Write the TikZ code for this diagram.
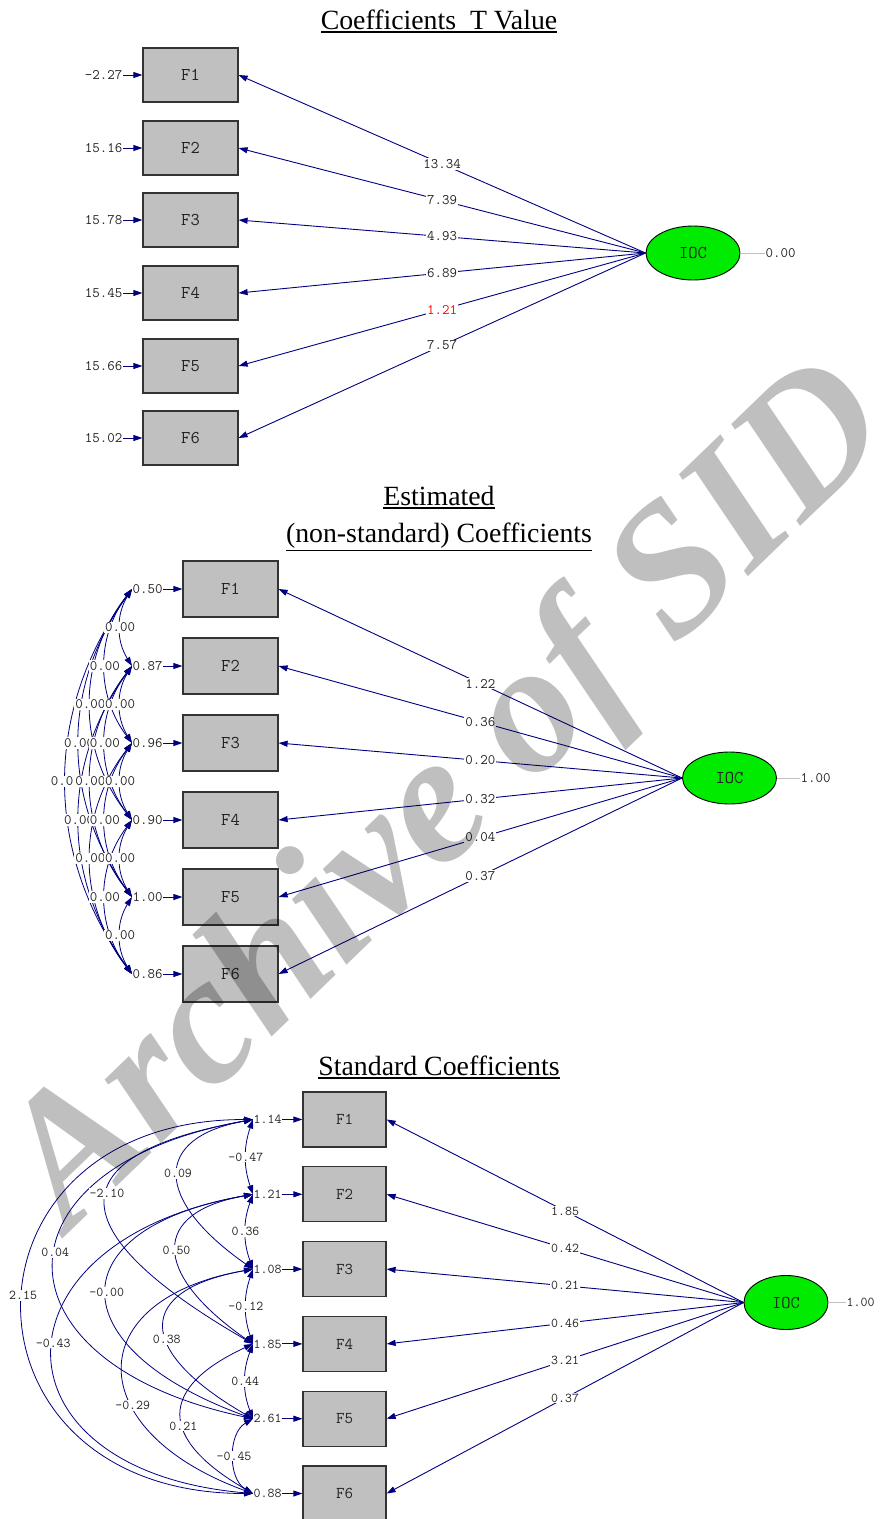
\documentclass[tikz,border=0pt]{standalone}
\usepackage{fontspec}
\setmainfont{Liberation Serif}
\usetikzlibrary{arrows.meta, shapes.geometric}

\definecolor{pathblue}{RGB}{0,0,128}
\definecolor{boxgray}{RGB}{192,192,192}
\definecolor{latgreen}{RGB}{0,235,0}
\definecolor{txtgray}{RGB}{35,35,35}

\newcommand\titleline[1]{\setbox0\hbox{#1}\leavevmode\rlap{\vrule height \dimexpr-\dp0-2pt\relax depth \dimexpr\dp0+3.5pt\relax width \wd0}\box0}

\begin{document}
\begin{tikzpicture}[x=1pt, y=-1pt,
  obs/.style={draw=black!80, line width=1.2pt, fill=boxgray, inner sep=0pt,
    minimum width=95pt, minimum height=54pt, text=txtgray, font=\ttfamily\fontsize{18}{18}\selectfont},
  obs3/.style={obs, minimum width=83pt, minimum height=55pt, font=\ttfamily\fontsize{16.5}{16.5}\selectfont},
  lat/.style={ellipse, draw=black, line width=0.9pt, fill=latgreen, inner sep=0pt,
    minimum width=94pt, minimum height=54pt, text=txtgray, font=\ttfamily\fontsize{18}{18}\selectfont},
  val/.style={inner sep=0.5pt, text=txtgray, font=\ttfamily\fontsize{14.5}{14.5}\selectfont},
  coef/.style={val, fill=white, inner sep=1pt},
  sval/.style={val, font=\ttfamily\fontsize{13.5}{13.5}\selectfont},
  scoef/.style={coef, font=\ttfamily\fontsize{13.5}{13.5}\selectfont},
  load/.style={draw=pathblue, line width=0.9pt, -{Triangle[length=9pt, width=6pt]}},
  cov/.style={draw=pathblue, line width=0.8pt, {Triangle[length=9pt, width=6pt]}-{Triangle[length=9pt, width=6pt]}},
  resid/.style={draw=boxgray, line width=1pt},
  title/.style={anchor=base, font=\fontsize{27.8}{30}\selectfont}]
\useasboundingbox (0,0) rectangle (879,1519);

% Coefficients T Value
\node[title] (t1) at (439,29) {\titleline{Coefficients~~T Value}};
\node[obs] (a1) at (190.5,75) {F1};
\node[obs] (a2) at (190.5,148) {F2};
\node[obs] (a3) at (190.5,220) {F3};
\node[obs] (a4) at (190.5,293) {F4};
\node[obs] (a5) at (190.5,366) {F5};
\node[obs] (a6) at (190.5,438) {F6};
\node[lat] (ioca) at (693,253) {IOC};
\node[val, anchor=west] (ra) at (765,253) {0.00};
\draw[resid] (ioca) -- (ra);

\node[val, anchor=east] (ea1) at (123,75) {-2.27};
\node[val, anchor=east] (ea2) at (123,148) {15.16};
\node[val, anchor=east] (ea3) at (123,220) {15.78};
\node[val, anchor=east] (ea4) at (123,293) {15.45};
\node[val, anchor=east] (ea5) at (123,366) {15.66};
\node[val, anchor=east] (ea6) at (123,438) {15.02};
\draw[load] (ea1) -- (a1);
\draw[load] (ea2) -- (a2);
\draw[load] (ea3) -- (a3);
\draw[load] (ea4) -- (a4);
\draw[load] (ea5) -- (a5);
\draw[load] (ea6) -- (a6);

\draw[load] (ioca.west) -- node[coef] {13.34} (a1.east);
\draw[load] (ioca.west) -- node[coef] {7.39} (a2.east);
\draw[load] (ioca.west) -- node[coef] {4.93} (a3.east);
\draw[load] (ioca.west) -- node[coef] {6.89} (a4.east);
\draw[load] (ioca.west) -- node[coef, text=red] {1.21} (a5.east);
\draw[load] (ioca.west) -- node[coef] {7.57} (a6.east);

% Estimated (non-standard) Coefficients
\node[title] (t2) at (439,505) {\titleline{Estimated}};
\node[title] (t3) at (439,542) {\titleline{(non-standard) Coefficients}};
\node[obs, minimum height=56pt] (b1) at (230.5,589) {F1};
\node[obs, minimum height=56pt] (b2) at (230.5,666) {F2};
\node[obs, minimum height=56pt] (b3) at (230.5,743) {F3};
\node[obs, minimum height=56pt] (b4) at (230.5,820) {F4};
\node[obs, minimum height=56pt] (b5) at (230.5,897) {F5};
\node[obs, minimum height=56pt] (b6) at (230.5,974) {F6};
\node[lat, minimum height=52pt] (iocb) at (729.5,778) {IOC};
\node[val, anchor=west] (rb) at (800,778) {1.00};
\draw[resid] (iocb) -- (rb);

\node[val, anchor=west] (eb1) at (132,589) {0.50};
\node[val, anchor=west] (eb2) at (132,666) {0.87};
\node[val, anchor=west] (eb3) at (132,743) {0.96};
\node[val, anchor=west] (eb4) at (132,820) {0.90};
\node[val, anchor=west] (eb5) at (132,897) {1.00};
\node[val, anchor=west] (eb6) at (132,974) {0.86};
\draw[load] (eb1) -- (b1);
\draw[load] (eb2) -- (b2);
\draw[load] (eb3) -- (b3);
\draw[load] (eb4) -- (b4);
\draw[load] (eb5) -- (b5);
\draw[load] (eb6) -- (b6);

\draw[load] (iocb.west) -- node[coef] {1.22} (b1.east);
\draw[load] (iocb.west) -- node[coef] {0.36} (b2.east);
\draw[load] (iocb.west) -- node[coef] {0.20} (b3.east);
\draw[load] (iocb.west) -- node[coef] {0.32} (b4.east);
\draw[load] (iocb.west) -- node[coef] {0.04} (b5.east);
\draw[load] (iocb.west) -- node[coef] {0.37} (b6.east);

% error covariances, widest first
\draw[cov] (eb1.west) to[bend right=36] node[coef] {0.00} (eb6.west);
\draw[cov] (eb1.west) to[bend right=36] node[coef] {0.00} (eb5.west);
\draw[cov] (eb2.west) to[bend right=36] node[coef] {0.00} (eb6.west);
\draw[cov] (eb1.west) to[bend right=38] node[coef] {0.00} (eb4.west);
\draw[cov] (eb2.west) to[bend right=38] node[coef] {0.00} (eb5.west);
\draw[cov] (eb3.west) to[bend right=38] node[coef] {0.00} (eb6.west);
\draw[cov] (eb1.west) to[bend right=37] node[coef] {0.00} (eb3.west);
\draw[cov] (eb2.west) to[bend right=37] node[coef] {0.00} (eb4.west);
\draw[cov] (eb3.west) to[bend right=37] node[coef] {0.00} (eb5.west);
\draw[cov] (eb4.west) to[bend right=37] node[coef] {0.00} (eb6.west);
\draw[cov] (eb1.west) to[bend right=32] node[coef] {0.00} (eb2.west);
\draw[cov] (eb2.west) to[bend right=32] node[coef] {0.00} (eb3.west);
\draw[cov] (eb3.west) to[bend right=32] node[coef] {0.00} (eb4.west);
\draw[cov] (eb4.west) to[bend right=32] node[coef] {0.00} (eb5.west);
\draw[cov] (eb5.west) to[bend right=32] node[coef] {0.00} (eb6.west);

% Standard Coefficients
\node[title] (t4) at (439,1075) {\titleline{Standard Coefficients}};
\node[obs3] (c1) at (344.5,1119.5) {F1};
\node[obs3] (c2) at (344.5,1194.3) {F2};
\node[obs3] (c3) at (344.5,1269.1) {F3};
\node[obs3] (c4) at (344.5,1343.9) {F4};
\node[obs3] (c5) at (344.5,1418.7) {F5};
\node[obs3] (c6) at (344.5,1493.5) {F6};
\node[lat, minimum width=84pt] (iocc) at (786,1302.5) {IOC};
\node[sval, anchor=west] (rc) at (846,1302.5) {1.00};
\draw[resid] (iocc) -- (rc);

\node[sval, anchor=west] (ec1) at (253,1119.5) {1.14};
\node[sval, anchor=west] (ec2) at (253,1194.3) {1.21};
\node[sval, anchor=west] (ec3) at (253,1269.1) {1.08};
\node[sval, anchor=west] (ec4) at (253,1343.9) {1.85};
\node[sval, anchor=west] (ec5) at (253,1418.7) {2.61};
\node[sval, anchor=west] (ec6) at (253,1493.5) {0.88};
\draw[load] (ec1) -- (c1);
\draw[load] (ec2) -- (c2);
\draw[load] (ec3) -- (c3);
\draw[load] (ec4) -- (c4);
\draw[load] (ec5) -- (c5);
\draw[load] (ec6) -- (c6);

\draw[load] (iocc.west) -- node[scoef] {1.85} (c1.east);
\draw[load] (iocc.west) -- node[scoef] {0.42} (c2.east);
\draw[load] (iocc.west) -- node[scoef] {0.21} (c3.east);
\draw[load] (iocc.west) -- node[scoef] {0.46} (c4.east);
\draw[load] (iocc.west) -- node[scoef] {3.21} (c5.east);
\draw[load] (iocc.west) -- node[scoef] {0.37} (c6.east);

\draw[cov] (ec1.west) .. controls +(-307,0) and +(-307,0) .. node[scoef, pos=0.48] {2.15} (ec6.west);
\draw[cov] (ec1.west) .. controls +(-265,47) and +(-265,-56) .. node[scoef, pos=0.465] {0.04} (ec5.west);
\draw[cov] (ec2.west) .. controls +(-267,47) and +(-267,-23) .. node[scoef, pos=0.475] {-0.43} (ec6.west);
\draw[cov] (ec1.west) .. controls +(-196,35) and +(-196,-113) .. node[scoef, pos=0.46] {-2.10} (ec4.west);
\draw[cov] (ec2.west) .. controls +(-195,34) and +(-195,-71) .. node[scoef, pos=0.5] {-0.00} (ec5.west);
\draw[cov] (ec3.west) .. controls +(-173,30) and +(-173,-63) .. node[scoef, pos=0.635] {-0.29} (ec6.west);
\draw[cov] (ec1.west) .. controls +(-100,18) and +(-100,-70) .. node[scoef, pos=0.49] {0.09} (ec3.west);
\draw[cov] (ec2.west) .. controls +(-102,18) and +(-102,-71) .. node[scoef, pos=0.505] {0.50} (ec4.west);
\draw[cov] (ec3.west) .. controls +(-118,21) and +(-118,-68) .. node[scoef, pos=0.58] {0.38} (ec5.west);
\draw[cov] (ec4.west) .. controls +(-95,44) and +(-95,-55) .. node[scoef, pos=0.575] {0.21} (ec6.west);
\draw[cov] (ec1.west) to[bend right=19] node[scoef] {-0.47} (ec2.west);
\draw[cov] (ec2.west) to[bend right=20] node[scoef] {0.36} (ec3.west);
\draw[cov] (ec3.west) to[bend right=19] node[scoef] {-0.12} (ec4.west);
\draw[cov] (ec4.west) to[bend right=21] node[scoef] {0.44} (ec5.west);
\draw[cov] (ec5.west) to[bend right=60] node[scoef] {-0.45} (ec6.west);

% watermark
\node[rotate=44, text=black, text opacity=0.25,
  font=\bfseries\itshape\fontsize{185}{185}\selectfont] (wm) at (452,800) {Archive of SID};
\end{tikzpicture}
\end{document}
